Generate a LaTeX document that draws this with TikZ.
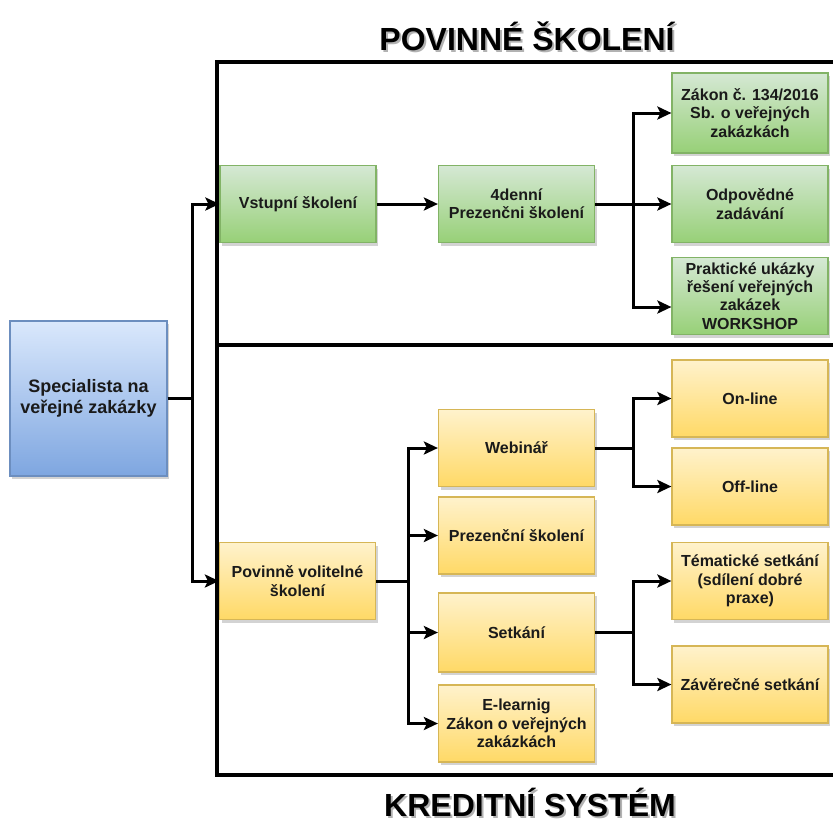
\documentclass[tikz,border=0pt]{standalone}
\usepackage{fontspec}
\setmainfont{Liberation Sans}
\usetikzlibrary{arrows.meta,calc,shadows}

\definecolor{grnlight}{HTML}{D5E8D4}
\definecolor{grndark}{HTML}{97D077}
\definecolor{grnline}{HTML}{82B366}
\definecolor{yellight}{HTML}{FFF2CC}
\definecolor{yeldark}{HTML}{FFD966}
\definecolor{yelline}{HTML}{D6B656}
\definecolor{blulight}{HTML}{DAE8FC}
\definecolor{bludark}{HTML}{7EA6E0}
\definecolor{bluline}{HTML}{6C8EBF}
\definecolor{textdark}{HTML}{1A1A1A}

\newcommand{\shadowtitle}[1]{\makebox[0pt][l]{\hspace{2pt}\raisebox{-2pt}{\textcolor{black!30}{#1}}}#1}

\tikzset{
  box/.style={rectangle, draw, line width=1.2pt, minimum width=156pt, minimum height=77pt,
    align=center, text=textdark, font=\fontsize{16}{18.4}\selectfont\bfseries,
    drop shadow={shadow xshift=2pt, shadow yshift=-3pt, opacity=0.35}},
  greenbox/.style={box, draw=grnline, top color=grnlight, bottom color=grndark},
  yellowbox/.style={box, draw=yelline, top color=yellight, bottom color=yeldark},
  bluebox/.style={box, draw=bluline, top color=blulight, bottom color=bludark,
    font=\fontsize{18}{20.5}\selectfont\bfseries},
  conn/.style={line width=3pt, -{Stealth[length=14pt,width=13pt,inset=3pt]}},
  title/.style={font=\fontsize{32}{36}\selectfont\bfseries, anchor=base, inner sep=1pt}
}

\begin{document}
\begin{tikzpicture}[x=1pt, y=-1pt]
  \useasboundingbox (0,0) rectangle (833,823);

  % frame of the two parts
  \draw[line width=3.2pt] (217,62) rectangle (840,775);
  \draw[line width=3.2pt] (217,345) -- (840,345);

  \node[title] (ptitle) at (527,50) {\shadowtitle{POVINNÉ ŠKOLENÍ}};
  \node[title] (ktitle) at (530,816) {\shadowtitle{KREDITNÍ SYSTÉM}};

  \node[bluebox, minimum width=157pt, minimum height=155pt] (spec) at (88.5,398.5) {Specialista na\\veřejné zakázky};

  % povinne skoleni
  \node[greenbox] (vstup) at (298,204) {Vstupní školení};
  \node[greenbox] (den) at (516.5,204) {4denní\\Prezenčni školení};
  \node[greenbox, minimum height=80pt] (zakon) at (750,113) {Zákon č. 134/2016\\Sb. o veřejných\\zakázkách};
  \node[greenbox] (odpo) at (750,204) {Odpovědné\\zadávání};
  \node[greenbox] (prak) at (750,296) {Praktické ukázky\\řešení veřejných\\zakázek\\WORKSHOP};

  % kreditni system
  \node[yellowbox] (povol) at (297.5,581) {Povinně volitelné\\školení};
  \node[yellowbox] (web) at (516.5,448) {Webinář};
  \node[yellowbox] (prez) at (516.5,535.5) {Prezenční školení};
  \node[yellowbox, minimum height=79pt] (setk) at (516.5,632.5) {Setkání};
  \node[yellowbox] (elearn) at (516.5,723.5) {E-learnig\\Zákon o veřejných\\zakázkách};
  \node[yellowbox] (online) at (750,398.5) {On-line};
  \node[yellowbox] (offline) at (750,486.5) {Off-line};
  \node[yellowbox] (tema) at (750,581) {Tématické setkání\\(sdílení dobré\\praxe)};
  \node[yellowbox] (zav) at (750,684.5) {Závěrečné setkání};

  \draw[conn] (spec.east) -- ++(25,0) |- (vstup.west);
  \draw[conn] (spec.east) -- ++(25,0) |- (povol.west);

  \draw[conn] (vstup) -- (den);
  \draw[conn] (den.east) -- ++(38,0) |- (zakon.west);
  \draw[conn] (den.east) -- ++(38,0) |- (odpo.west);
  \draw[conn] (den.east) -- ++(38,0) |- ($(prak.west)+(0,11)$);

  \draw[conn] (povol.east) -- ++(32,0) |- (web.west);
  \draw[conn] (povol.east) -- ++(32,0) |- (prez.west);
  \draw[conn] (povol.east) -- ++(32,0) |- (setk.west);
  \draw[conn] (povol.east) -- ++(32,0) |- (elearn.west);

  \draw[conn] (web.east) -- ++(38,0) |- (online.west);
  \draw[conn] (web.east) -- ++(38,0) |- (offline.west);
  \draw[conn] (setk.east) -- ++(38,0) |- (tema.west);
  \draw[conn] (setk.east) -- ++(38,0) |- (zav.west);
\end{tikzpicture}
\end{document}
